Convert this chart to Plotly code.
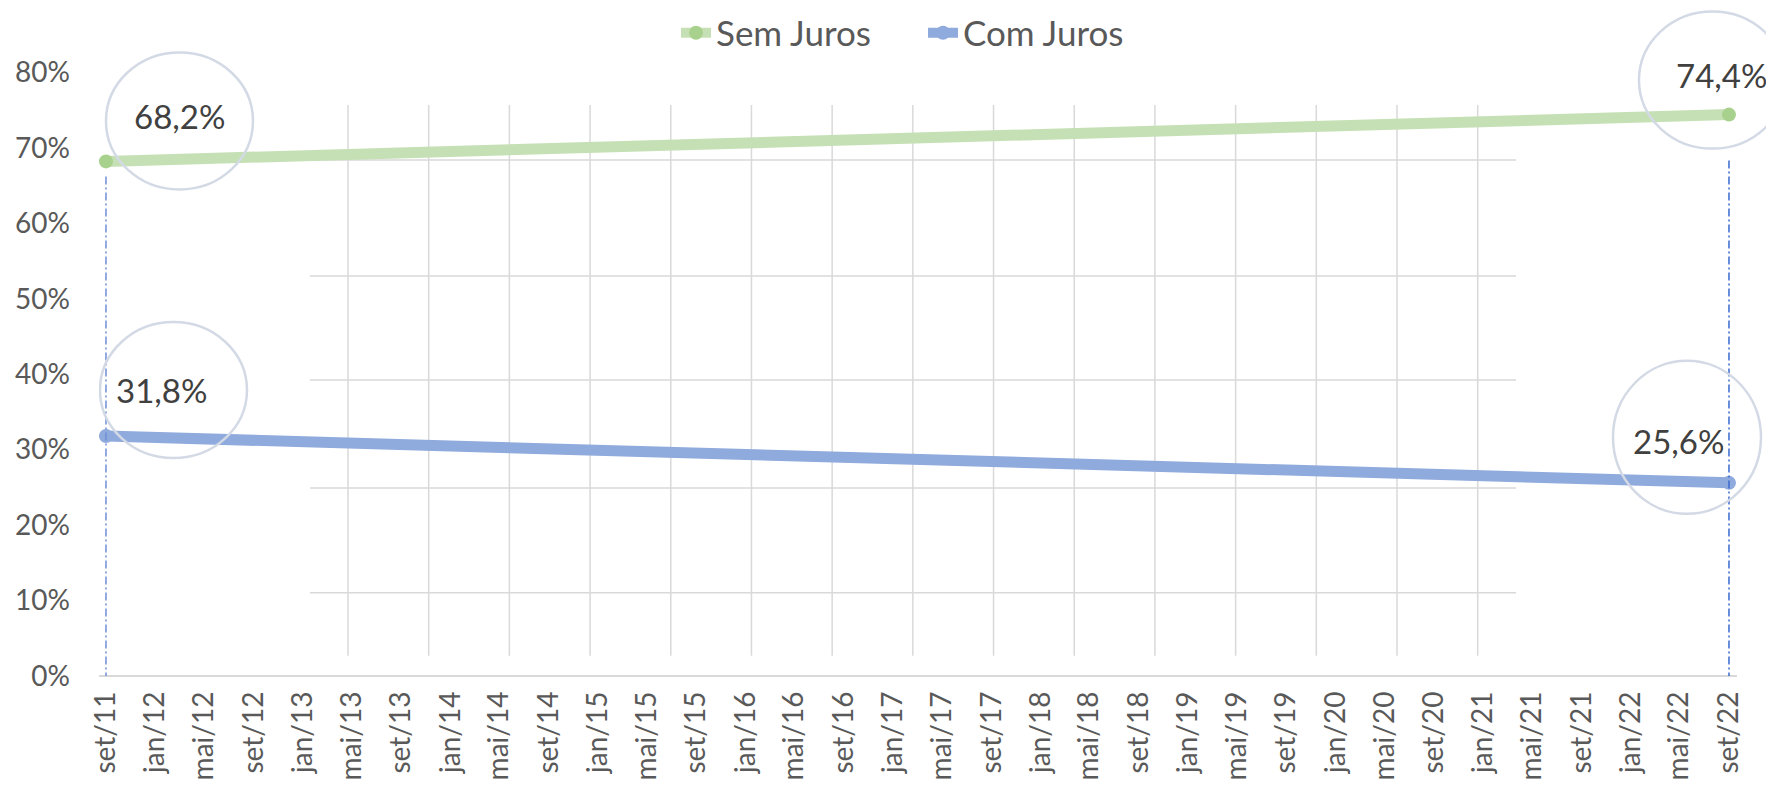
import plotly.graph_objects as go
import pandas as pd

# ---- data ----
dates = ["2011-09-01", "2022-09-01"]
sem_juros = [68.2, 74.4]
com_juros = [31.8, 25.6]
series_names = ["Sem Juros", "Com Juros"]

tick_labels = ["set/11", "jan/12", "mai/12", "set/12", "jan/13", "mai/13", "set/13",
               "jan/14", "mai/14", "set/14", "jan/15", "mai/15", "set/15", "jan/16",
               "mai/16", "set/16", "jan/17", "mai/17", "set/17", "jan/18", "mai/18",
               "set/18", "jan/19", "mai/19", "set/19", "jan/20", "mai/20", "set/20",
               "jan/21", "mai/21", "set/21", "jan/22", "mai/22", "set/22"]
tick_dates = [d.strftime("%Y-%m-%d") for d in pd.date_range("2011-09-01", periods=len(tick_labels), freq="4MS")]
y_ticks = [0, 10, 20, 30, 40, 50, 60, 70, 80]
y_tick_labels = ["0%", "10%", "20%", "30%", "40%", "50%", "60%", "70%", "80%"]

# ---- layout constants (page pixels; the page body has an 8px margin) ----
BODY = 8
W, H = 1774 - BODY, 786 - BODY
PAGE_L, PAGE_R, PAGE_T, PAGE_B = 99, 1774, 8, 676      # plot area on the page
ML, MR, MT, MB = PAGE_L - BODY, 0, 0, 786 - PAGE_B
PW, PH = PAGE_R - PAGE_L, PAGE_B - PAGE_T
Y_TOP = 88.53        # so that 80% sits at page y≈72
X_RANGE = ["2011-08-14 17:00", "2022-12-21 10:00"]
FONT = "Lato, 'Open Sans', sans-serif"
GREEN_LINE, GREEN_MARK = "#C5E0B4", "#A9D18E"
BLUE_LINE, BLUE_MARK = "#8FAADC", "#8FAADC"
GRID = "#D9D9D9"


def px_x(X):
    return (X - PAGE_L) / PW


def px_y(Y):
    return (PAGE_B - Y) / PH


fig = go.Figure()
fig.add_trace(go.Scatter(x=dates, y=sem_juros, name=series_names[0], mode="lines+markers",
                         line=dict(color=GREEN_LINE, width=11),
                         marker=dict(color=GREEN_MARK, size=14)))
fig.add_trace(go.Scatter(x=dates, y=com_juros, name=series_names[1], mode="lines+markers",
                         line=dict(color=BLUE_LINE, width=11),
                         marker=dict(color=BLUE_MARK, size=14)))

shapes = []
# decorative grid (not aligned with the axes, as in the original)
v_x0, v_x1, n_v = 348, 1477.7, 15
for i in range(n_v):
    X = v_x0 + (v_x1 - v_x0) * i / (n_v - 1)
    shapes.append(dict(type="line", xref="paper", yref="paper", x0=px_x(X), x1=px_x(X),
                       y0=px_y(655.7), y1=px_y(105), line=dict(color=GRID, width=1.5),
                       layer="below"))
for Y in [160, 276, 380, 488, 592.7]:
    shapes.append(dict(type="line", xref="paper", yref="paper", x0=px_x(310), x1=px_x(1516),
                       y0=px_y(Y), y1=px_y(Y), line=dict(color=GRID, width=1.5),
                       layer="below"))
# horizontal axis line
shapes.append(dict(type="line", xref="paper", yref="paper", x0=px_x(99), x1=px_x(1737),
                   y0=0, y1=0, line=dict(color=GRID, width=2), layer="below"))

# drop lines (dash-dot) from below the top series down to the axis
drop_cfg = [(0, -15, "#6F8FD8"), (1, -46, "#3A6BCC")]
for idx, off, col in drop_cfg:
    shapes.append(dict(type="line", xref="x", yref="y", ysizemode="pixel",
                       yanchor=sem_juros[idx], x0=dates[idx], x1=dates[idx],
                       y0=off, y1=-(sem_juros[idx]) * (PAGE_B - 72.4) / 80.0,
                       line=dict(color=col, width=1.5, dash="8px,3px,2px,3px")))

# label offsets (pixels from the point) and circle boxes (pixels from the point)
label_cfg = [
    (sem_juros, 0, 74, 45, (0, 147, -28, 109)),
    (sem_juros, 1, -7, 40, (-90, 57, -34, 103)),
    (com_juros, 0, 56, 46, (-6, 141, -22, 114)),
    (com_juros, 1, -50, 42, (-116, 32, -31, 122)),
]
annotations = []
for vals, idx, xs, ys, (cx0, cx1, cy0, cy1) in label_cfg:
    v = vals[idx]
    annotations.append(dict(x=dates[idx], y=v, xref="x", yref="y",
                            text=f"{v:.1f}".replace(".", ",") + "%", showarrow=False,
                            xshift=xs, yshift=ys, xanchor="center", yanchor="middle",
                            font=dict(family=FONT, size=33, color="#404040")))
    shapes.append(dict(type="circle", xref="x", yref="y", xsizemode="pixel", ysizemode="pixel",
                       xanchor=dates[idx], yanchor=v, x0=cx0, x1=cx1, y0=cy0, y1=cy1,
                       line=dict(color="#D3DAE5", width=2.5)))

fig.update_layout(
    width=W, height=H,
    margin=dict(l=ML, r=MR, t=MT, b=MB, autoexpand=False),
    paper_bgcolor="white", plot_bgcolor="white",
    font=dict(family=FONT, color="#595959"),
    showlegend=True,
    legend=dict(orientation="h", x=px_x(676), xanchor="left", y=px_y(33), yanchor="middle",
                font=dict(family=FONT, size=35, color="#595959"),
                entrywidth=202, entrywidthmode="pixels",
                bgcolor="rgba(0,0,0,0)", tracegroupgap=0),
    shapes=shapes,
    annotations=annotations,
    xaxis=dict(type="date", range=X_RANGE, tickvals=tick_dates,
               ticktext=tick_labels, tickangle=-90, showgrid=False, zeroline=False,
               showline=False, ticks="",
               tickfont=dict(family=FONT, size=28, color="#595959"), automargin=False,
               ticklabelstandoff=9),
    yaxis=dict(range=[0, Y_TOP], tickvals=y_ticks, ticktext=y_tick_labels, showgrid=False,
               zeroline=False, showline=False, ticks="",
               tickfont=dict(family=FONT, size=28, color="#595959"), automargin=False,
               ticklabelstandoff=28),
)

fig.write_html("out.html")
